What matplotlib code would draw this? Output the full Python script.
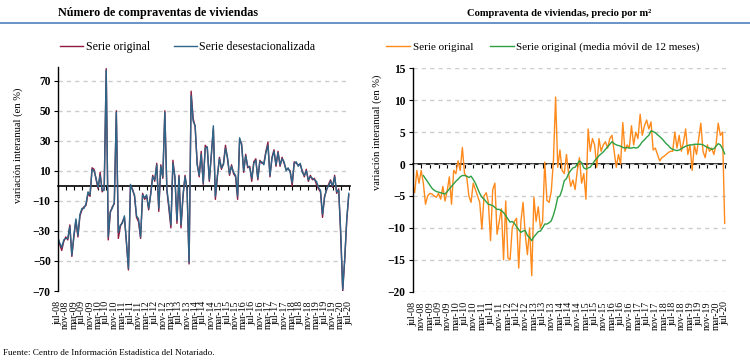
import numpy as np
import matplotlib
matplotlib.use("Agg")
import matplotlib.pyplot as plt
from matplotlib.lines import Line2D

plt.rcParams['font.family'] = ['Liberation Serif', 'DejaVu Serif']

# Monthly data, jul-08 .. jul-20 (145 months)
tick_labels = ['jul-08', 'nov-08', 'mar-09', 'jul-09', 'nov-09', 'mar-10', 'jul-10',
               'nov-10', 'mar-11', 'jul-11', 'nov-11', 'mar-12', 'jul-12', 'nov-12',
               'mar-13', 'jul-13', 'nov-13', 'mar-14', 'jul-14', 'nov-14', 'mar-15',
               'jul-15', 'nov-15', 'mar-16', 'jul-16', 'nov-16', 'mar-17', 'jul-17',
               'nov-17', 'mar-18', 'jul-18', 'nov-18', 'mar-19', 'jul-19', 'nov-19',
               'mar-20', 'jul-20']

# Número de compraventas: serie original
ventas_orig = [-35, -39, -43, -37, -34, -36, -26, -47, -34, -23,
               -34, -20, -16, -14, -13, -5, -7, 12, 11, 4,
               -2, 9, -4, -2, 78, -36, -18, -14, -12, 50,
               -35, -27, -24, -21, -38, -56, 0, -2, -7, -21,
               -24, -35, -5, -9, -7, -16, -5, 7, 3, 15,
               -17, 14, 5, 50, -3, -15, -28, 17, 5, -25,
               7, -28, -7, 7, -3, -52, 63, 45, 39, 15,
               6, 23, 1, 27, 25, 3, 21, 38, -9, 6,
               19, 11, 15, 27, 18, 7, 14, 8, 6, -9,
               31, 28, 9, 21, 12, 13, 3, 16, 18, 4,
               17, 15, 15, 23, 29, 6, 19, 24, 13, 23,
               13, 19, 15, 11, 11, 10, 0, 16, 15, 14,
               14, 10, 6, 11, 3, 7, 4, 5, 1, -2,
               -4, -21, -7, -3, 1, 4, -1, 7, -5, -2,
               -33, -70, -49, -23, -6]

# Número de compraventas: serie desestacionalizada
ventas_desest = [-34, -38, -41, -36, -35, -35, -27, -46, -33, -22,
                 -33, -19, -15, -15, -12, -4, -6, 11, 10, 5,
                 -1, 7, -3, -3, 77, -34, -17, -15, -11, 49,
                 -31, -26, -25, -20, -37, -55, 1, -3, -6, -20,
                 -22, -34, -6, -8, -6, -15, -6, 6, 4, 14,
                 -15, 13, 6, 49, -2, -13, -26, 15, 6, -23,
                 6, -26, -6, 6, -2, -51, 60, 43, 40, 14,
                 7, 21, 2, 25, 26, 4, 20, 40, -7, 7,
                 18, 12, 14, 25, 19, 8, 13, 9, 7, -7,
                 32, 27, 10, 20, 13, 12, 5, 15, 17, 5,
                 16, 16, 14, 22, 27, 7, 18, 23, 14, 22,
                 14, 18, 16, 10, 12, 9, 2, 15, 16, 13,
                 15, 9, 7, 10, 4, 6, 5, 4, 3, -1,
                 -3, -19, -8, -2, 0, 3, 0, 6, -4, -3,
                 -30, -69, -48, -22, -5]

# Precio por m2: serie original
precio_orig = [-3, -4.5, -1, -3, -1, -3, -6.3, -5, -4.6, -4.7,
               -5, -5.2, -4.6, -5.5, -3.5, -5.8, -4.2, -2, -6.3, -1,
               -1.5, 0.5, -1, 2.6, -1.5, -2, -5, -6, -3, -4,
               -5, -6, -10.2, -5, -4.5, -6, -12, -4, -3, -11,
               -9, -7, -15, -5.8, -14.7, -15, -10, -9, -8.5, -16.3,
               -9, -6, -11, -14.2, -10, -17.5, -5.2, -9, -6.7, -10,
               -9, 0.3, -5.7, -6, -4.3, 0.5, 10.5, -0.5, 2.2, -1,
               -1.5, 1.5, -1.5, -3.5, -2.5, -4, -1, 1, -3, -1.5,
               -5.5, 5.5, 2, 4, 3, -0.5, 4, 2, 3, 3.5,
               2.5, 4, 4.5, 2, -0.5, 1.5, 0, 6.5, 2, 3,
               2.5, 6, 3, 5, 4, 7.8, 4.5, 6, 6.9, 5.5,
               6.6, 2.2, 2.5, 1.5, 0.5, 1, 1.2, 1.5, 1.8, 2,
               2, 5, 2.5, 4.5, 2, 3.5, 5.5, 1.5, 3, -1,
               3, 1.5, 4, 6.4, 2, 1, 3, 2, 2.5, 1.5,
               3, 6.4, 4.5, 5, -9.3]

# Precio por m2: media móvil de 12 meses
precio_mm12 = [None, None, None, None, None, -1.8, -2.3, -2.8, -3.3, -3.8,
               -4.1, -4.3, -4.4, -4.5, -4.6, -4.7, -4.3, -3.9, -3.5, -3.1,
               -2.7, -2.4, -2.0, -1.8, -1.8, -1.9, -2.1, -1.9, -2.4, -3.0,
               -3.8, -4.6, -5.2, -5.5, -5.9, -6.3, -6.4, -6.5, -6.8, -7.1,
               -7.1, -7.3, -7.6, -8.1, -8.6, -9.1, -9.0, -9.3, -9.8, -10.3,
               -10.7, -10.5, -10.4, -11.2, -11.5, -12.0, -11.4, -11.0, -10.6, -10.5,
               -10.0, -9.4, -9.4, -9.2, -8.9, -8.0, -6.8, -5.2, -5.0, -4.0,
               -2.6, -2.3, -1.5, -1.0, -0.6, -0.5, 0.0, 0.5, 0.2, -0.6,
               -0.8, -0.6, -0.5, 0.0, 0.5, 0.9, 1.3, 1.6, 1.9, 2.3,
               2.7, 3.1, 3.5, 3.2, 3.0, 2.9, 2.8, 2.6, 2.5, 2.6,
               2.5, 2.5, 2.6, 2.5, 2.6, 3.0, 3.5, 3.8, 4.2, 4.5,
               5.2, 5.1, 4.9, 4.6, 4.3, 4.0, 3.6, 3.2, 2.9, 2.5,
               2.3, 2.2, 2.1, 2.2, 2.4, 2.6, 2.8, 2.9, 3.0, 3.0,
               3.1, 3.1, 3.1, 3.1, 3.0, 2.8, 2.6, 2.5, 2.3, 2.4,
               2.8, 3.2, 3.0, 2.4, 1.6]

months = np.arange(len(ventas_orig))
tick_pos = np.arange(0, len(months), 4)

red = '#8e1b3f'
blue = '#2d6688'
orange = '#ff8a1c'
green = '#2ea043'

fig = plt.figure(figsize=(7.5, 3.62), dpi=100)
W, H = 750.0, 362.0
ax1 = fig.add_axes([57.7 / W, 1 - 291.0 / H, 292.3 / W, 224.3 / H])
ax2 = fig.add_axes([412.5 / W, 1 - 291.7 / H, 313.5 / W, 223.4 / H])


def style_axis(ax, ylim, yticks):
    ax.set_xlim(0, 144.6)
    ax.set_ylim(*ylim)
    ax.set_yticks(yticks)
    ax.yaxis.grid(True, color='#cccccc', linestyle=(0, (3, 3)), linewidth=1.0)
    ax.set_axisbelow(True)
    for s in ['top', 'right', 'bottom']:
        ax.spines[s].set_visible(False)
    ax.spines['left'].set_linewidth(1.0)
    ax.set_xticks(tick_pos)
    ax.set_xticklabels(tick_labels, rotation=90, fontsize=7.2)
    ax.tick_params(axis='x', length=0, pad=7)
    ax.tick_params(axis='y', length=3, width=0.8, labelsize=8.3, pad=2)
    for t in ax.get_yticklabels():
        t.set_fontweight('bold')
    # zero line with its own tick marks
    sec = ax.secondary_xaxis(0, transform=ax.transData)
    sec.set_alignment('bottom')
    sec.set_xticks(tick_pos)
    sec.tick_params(axis='x', length=3, width=0.8, direction='out',
                    labelbottom=False, labeltop=False)
    sec.spines['bottom'].set_linewidth(1.2)
    ax.set_ylabel('variación interanual (en %)', fontsize=7.6)


style_axis(ax1, (-70, 79.3), [-70, -50, -30, -10, 10, 30, 50, 70])
style_axis(ax2, (-20, 15), [-20, -15, -10, -5, 0, 5, 10, 15])
ax1.yaxis.set_label_coords((23 - 57.7) / 292.3, 0.65)
ax2.yaxis.set_label_coords((382 - 412.5) / 313.5, 0.715)

l1, = ax1.plot(months, ventas_orig, color=red, lw=1.0)
l2, = ax1.plot(months, ventas_desest, color=blue, lw=1.0)

l3, = ax2.plot(months, precio_orig, color=orange, lw=1.0)
l4, = ax2.plot(months, np.array(precio_mm12, dtype=float), color=green, lw=1.0)

fig.legend([l1, l2], ['Serie original', 'Serie desestacionalizada'],
           loc='center left', bbox_to_anchor=(60 / W, 1 - 47 / H),
           bbox_transform=fig.transFigure, ncol=2, frameon=False,
           borderaxespad=0, borderpad=0, handlelength=1.95, handletextpad=0.2,
           columnspacing=2.0, fontsize=8.6)
fig.legend([l3, l4], ['Serie original', 'Serie original (media móvil de 12 meses)'],
           loc='center left', bbox_to_anchor=(386 / W, 1 - 47 / H),
           bbox_transform=fig.transFigure, ncol=2, frameon=False,
           borderaxespad=0, borderpad=0, handlelength=2.2, handletextpad=0.2,
           columnspacing=1.5, fontsize=8.0)

fig.text(158 / W, 1 - 13 / H, 'Número de compraventas de viviendas',
         ha='center', va='center', fontsize=8.7, fontweight='bold')
fig.text(559 / W, 1 - 13 / H, 'Compraventa de viviendas, precio por m²',
         ha='center', va='center', fontsize=7.6, fontweight='bold')
fig.add_artist(Line2D([0, 1], [1 - 22.5 / H, 1 - 22.5 / H],
                      transform=fig.transFigure, color='#4f81bd', lw=1.2))

fig.text(3 / W, 1 - 353 / H, 'Fuente: Centro de Información Estadística del Notariado.',
         ha='left', va='center', fontsize=6.6)

fig.savefig('out.png', dpi=100)
